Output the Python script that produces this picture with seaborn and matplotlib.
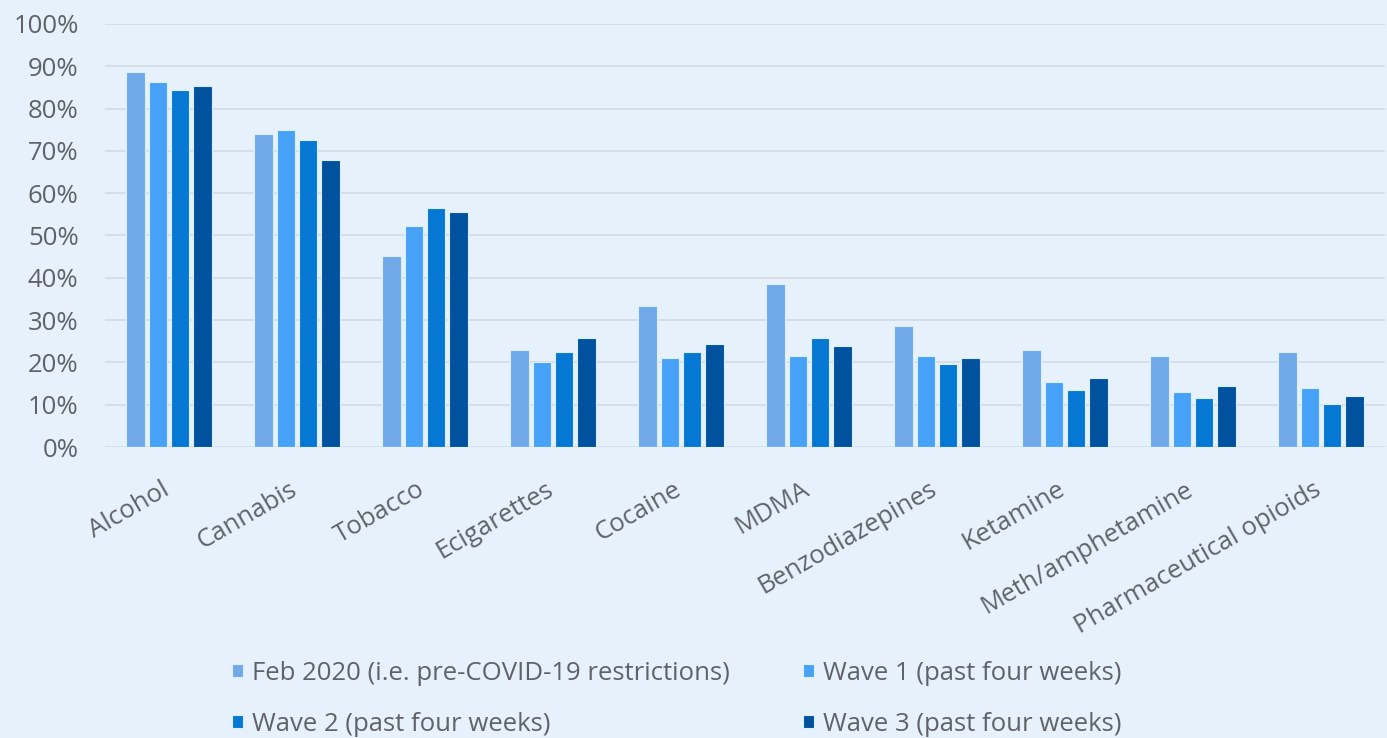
import pandas as pd
import matplotlib.pyplot as plt
import seaborn as sns
from matplotlib.ticker import PercentFormatter, MultipleLocator
from matplotlib.transforms import ScaledTranslation

# --- data (percent of respondents) ---
substances = ['Alcohol', 'Cannabis', 'Tobacco', 'Ecigarettes', 'Cocaine', 'MDMA',
              'Benzodiazepines', 'Ketamine', 'Meth/amphetamine', 'Pharmaceutical opioids']
series_names = ['Feb 2020 (i.e. pre-COVID-19 restrictions)', 'Wave 1 (past four weeks)',
                'Wave 2 (past four weeks)', 'Wave 3 (past four weeks)']
feb_2020 = [88.7, 74.0, 45.2, 22.9, 33.3, 38.5, 28.6, 22.9, 21.5, 22.5]
wave_1 = [86.3, 74.9, 52.2, 20.1, 21.0, 21.5, 21.5, 15.4, 13.0, 13.9]
wave_2 = [84.4, 72.6, 56.5, 22.5, 22.5, 25.8, 19.6, 13.5, 11.6, 10.2]
wave_3 = [85.3, 67.8, 55.6, 25.8, 24.3, 23.9, 21.0, 16.3, 14.4, 12.1]

colors = ['#70A9E8', '#47A2F7', '#0578D3', '#00529F']
bg = '#E6F1FC'
text_col = '#5F6368'

rows = []
for name, vals in zip(series_names, [feb_2020, wave_1, wave_2, wave_3]):
    for sub, v in zip(substances, vals):
        rows.append({'substance': sub, 'series': name, 'value': v / 100})
df = pd.DataFrame(rows)

sns.set_theme(style='white')
plt.rcParams['font.family'] = ['Open Sans', 'DejaVu Sans']

fig = plt.figure(figsize=(13.87, 7.38), dpi=100, facecolor=bg)
ax = fig.add_axes([0.0757, 0.3943, 0.9229, 0.5732])
ax.set_facecolor(bg)

sns.barplot(data=df, x='substance', y='value', hue='series', order=substances,
            hue_order=series_names, palette=colors, saturation=1, width=0.7, gap=0.18,
            edgecolor='#D8F0FF', linewidth=0.8, ax=ax, legend=True)

ax.set_ylim(0, 1.0)
ax.set_xlim(-0.5, 9.5)
ax.yaxis.set_major_locator(MultipleLocator(0.1))
ax.yaxis.set_major_formatter(PercentFormatter(1.0, decimals=0))
ax.grid(axis='y', color='#D4DDE6', linewidth=1.3)
ax.set_axisbelow(True)
for s in ax.spines.values():
    s.set_visible(False)
ax.set_xlabel('')
ax.set_ylabel('')
ax.tick_params(axis='both', length=0, colors=text_col, labelsize=18.5)
ax.tick_params(axis='y', pad=19)
plt.setp(ax.get_xticklabels(), rotation=30, ha='right', va='top', rotation_mode='anchor')
offset = ScaledTranslation(-8 / 100, -25 / 100, fig.dpi_scale_trans)
for lbl in ax.get_xticklabels():
    lbl.set_transform(lbl.get_transform() + offset)

# legend: two rows, Feb/Wave 1 on top, Wave 2/Wave 3 below
handles, labels = ax.get_legend_handles_labels()
ax.get_legend().remove()
order = [0, 2, 1, 3]
fig.legend([handles[i] for i in order], [labels[i] for i in order], ncol=2,
           loc='upper left', bbox_to_anchor=(0.158, 0.122), frameon=False,
           fontsize=18.5, labelcolor=text_col, handlelength=0.42, handleheight=0.42,
           handletextpad=0.35, columnspacing=2.85, labelspacing=1.0, borderpad=0)

fig.savefig('out.png', dpi=100, facecolor=bg)
